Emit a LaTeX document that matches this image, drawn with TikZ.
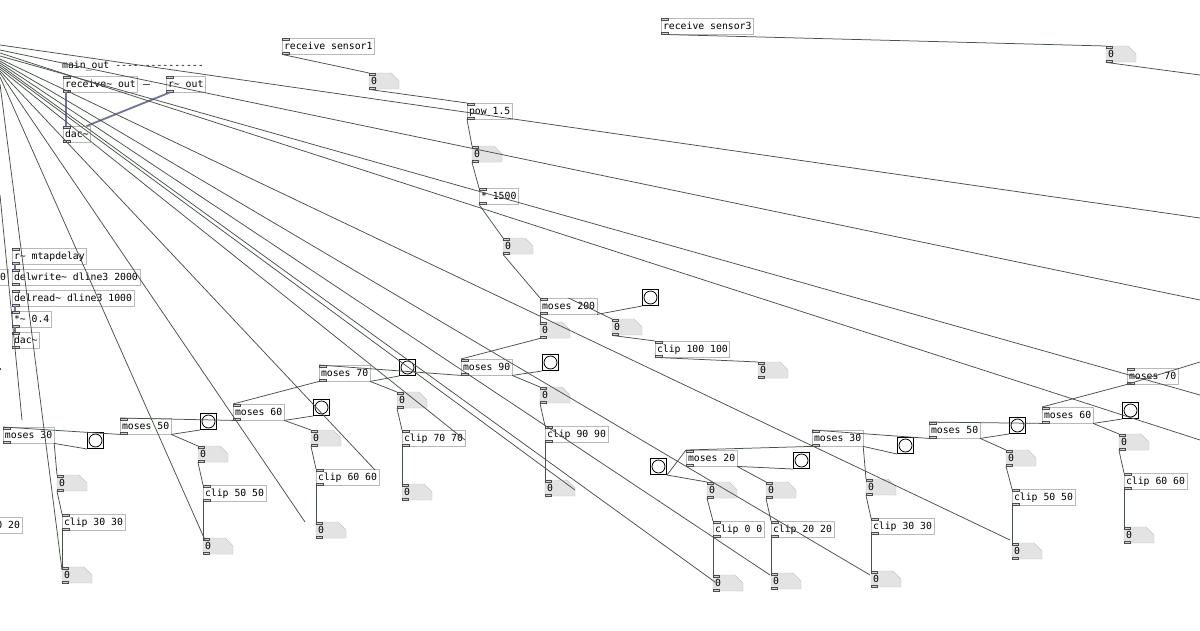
\documentclass[tikz,border=0pt]{standalone}
\usepackage{fontspec}
\setmonofont{DejaVu Sans Mono}
\usetikzlibrary{calc}
\definecolor{wirec}{rgb}{0.28,0.32,0.28}
\definecolor{sigc}{rgb}{0.45,0.45,0.6}
\tikzset{
 obj/.style={draw=gray!55,anchor=north west,inner sep=1.8pt,minimum height=16pt,font=\ttfamily\fontsize{9.8}{10}\selectfont,text height=7.5pt,text depth=1.5pt},
 wire/.style={draw=wirec,line width=0.75pt},
 sig/.style={draw=sigc,line width=1.8pt},
 port/.style={fill=gray!35,draw=gray!60!black,line width=0.3pt},
 numbg/.style={fill=gray!22,draw=gray!45},
}
\newcommand{\pdobj}[4]{\node[obj] (#1) at (#2,#3) {#4};
 \path[port] (#1.north west) rectangle ++(7,2); \path[port] (#1.south west) rectangle ++(7,-2);}
\newcommand{\pdnum}[3]{\node[anchor=north west,minimum width=30pt,minimum height=16pt,inner sep=0] (#1) at (#2,#3) {};
 \path[numbg] (#2,#3) -- ++(22,0) -- ++(8,8) -- ++(0,8) -- ++(-30,0) -- cycle;
 \node[anchor=west,inner sep=0,font=\ttfamily\fontsize{9.8}{10}\selectfont] at (#2+2,#3+8) {0};
 \path[port] (#1.north west) rectangle ++(6,2); \path[port] (#1.south west) rectangle ++(6,-2);}
\newcommand{\pdbang}[3]{\node[draw=black,line width=1pt,minimum size=16pt,inner sep=0,anchor=north west] (#1) at (#2,#3) {};
 \draw[line width=0.8pt] (#1.center) circle (6.5);}
\begin{document}
\begin{tikzpicture}[x=1pt,y=-1pt]
\fill[white] (0,0) rectangle (1200,630);
\useasboundingbox (0,0) rectangle (1200,630);
% top left
\node[anchor=west,inner sep=0,font=\ttfamily\fontsize{9.8}{10}\selectfont] (mo) at (62,66) {main\_out ---------------};
\pdobj{rec}{63}{76}{receive\~{} out}
\pdobj{rout}{166}{76}{r\~{} out}
\pdobj{dac}{63}{126}{dac\~{}}
\draw[sig] (rec.south west) ++(3,0) -- ($(dac.north west)+(3,0)$);
\draw[sig] (rout.south west) ++(4,0) -- ($(dac.north east)+(-4,0)$);
\draw[wirec] (143,84) -- (150,84);
% delay section
\pdobj{rmt}{12}{248}{r\~{} mtapdelay}
\pdobj{dw}{12}{269}{delwrite\~{} dline3 2000}
\node[obj,anchor=north east] (zz) at (8,269) {0};
\pdobj{dr}{12}{290}{delread\~{} dline3 1000}
\pdobj{mul}{12}{311}{*\~{} 0.4}
\pdobj{dac2}{12}{332}{dac\~{}}
\draw[sig] ($(rmt.south west)+(3,0)$) -- ($(dw.north west)+(3,0)$);
\draw[sig] ($(dr.south west)+(3,0)$) -- ($(mul.north west)+(3,0)$);
\draw[sig] ($(mul.south west)+(3,0)$) -- ($(dac2.north west)+(3,0)$);
% sensor1 chain
\pdobj{rs1}{282}{38}{receive sensor1}
\pdnum{n1}{369}{73}
\pdobj{pow}{467}{103}{pow 1.5}
\pdnum{n2}{472}{146}
\pdobj{m1500}{479}{188}{* 1500}
\pdnum{n3}{503}{238}
\draw[wire] (rs1.south west) -- (n1.north west);
\draw[wire] (n1.south west) -- (pow.north west);
\draw[wire] (pow.south west) -- (n2.north west);
\draw[wire] (n2.south west) -- (m1500.north west);
\draw[wire] (m1500.south west) -- (n3.north west);
% sensor3
\pdobj{rs3}{661}{18}{receive sensor3}
\pdnum{n4}{1106}{46}
\coordinate (e4) at (1200,75);
\draw[wire] (rs3.south west) -- (n4.north west);
\draw[wire] (n4.south west) -- (e4);
% moses 200
\pdobj{m200}{540}{298}{moses 200}
\pdbang{b200}{642}{289}
\pdnum{n200a}{540}{322}
\pdnum{n200b}{612}{319}
\pdobj{c100}{655}{341}{clip 100 100}
\pdnum{n100}{758}{362}
\draw[wire] (n3.south west) -- (m200.north west);
\draw[wire] (m200.south west) -- (n200a.north west);
\draw[wire] (m200.south east) -- (b200.south west);
\draw[wire] (m200.north) -- (n200b.north west);
\draw[wire] (n200b.south west) -- (c100.north west);
\draw[wire] (c100.south west) -- (n100.north west);
% moses 90
\pdobj{m90}{461}{359}{moses 90}
\pdbang{b90}{542}{354}
\pdnum{n90}{540}{387}
\pdobj{c90}{545}{426}{clip 90 90}
\pdnum{n90b}{545}{480}
\draw[wire] (n200a.south west) -- (m90.north west);
\draw[wire] (m90.south east) -- (b90.south west);
\draw[wire] (m90.south east) -- (n90.north west);
\draw[wire] (n90.south west) -- (c90.north west);
\draw[wire] (c90.south west) -- (n90b.north west);
% moses 70
\pdobj{m70}{319}{365}{moses 70}
\pdbang{b70}{399}{359}
\pdnum{n70}{397}{392}
\pdobj{c70}{402}{430}{clip 70 70}
\pdnum{n70b}{402}{484}
\draw[wire] (m90.south west) -- (m70.north west);
\draw[wire] (m70.south east) -- (b70.south west);
\draw[wire] (m70.south east) -- (n70.north west);
\draw[wire] (n70.south west) -- (c70.north west);
\draw[wire] (c70.south west) -- (n70b.north west);
% moses 60
\pdobj{m60}{233}{404}{moses 60}
\pdbang{b60}{313}{399}
\pdnum{n60}{311}{430}
\pdobj{c60}{316}{469}{clip 60 60}
\pdnum{n60b}{316}{522}
\draw[wire] (m70.south west) -- (m60.north west);
\draw[wire] (m60.south east) -- (b60.south west);
\draw[wire] (m60.south east) -- (n60.north west);
\draw[wire] (n60.south west) -- (c60.north west);
\draw[wire] (c60.south west) -- (n60b.north west);
% moses 50
\pdobj{m50}{120}{418}{moses 50}
\pdbang{b50}{200}{413}
\pdnum{n50}{198}{446}
\pdobj{c50}{203}{485}{clip 50 50}
\pdnum{n50b}{203}{538}
\draw[wire] (m60.south west) -- (m50.north west);
\draw[wire] (m50.south east) -- (b50.south west);
\draw[wire] (m50.south east) -- (n50.north west);
\draw[wire] (n50.south west) -- (c50.north west);
\draw[wire] (c50.south west) -- (n50b.north west);
% moses 30
\pdobj{m30}{3}{427}{moses 30}
\pdbang{b30}{87}{432}
\pdnum{n30}{57}{475}
\pdobj{c30}{62}{514}{clip 30 30}
\pdnum{n30b}{62}{567}
\node[obj,anchor=north east] (c20l) at (22,517) {0 20};
\draw[wire] (m50.south west) -- (m30.north west);
\draw[wire] (m30.south east) -- (b30.south west);
\draw[wire] (m30.south east) -- (n30.north west);
\draw[wire] (n30.south west) -- (c30.north west);
\draw[wire] (c30.south west) -- (n30b.north west);
% right group
\pdobj{rm70}{1127}{368}{moses 70}
\pdobj{rm60}{1042}{407}{moses 60}
\pdbang{rb60}{1122}{402}
\pdnum{rn60}{1119}{434}
\pdobj{rc60}{1124}{473}{clip 60 60}
\pdnum{rn60b}{1124}{527}
\pdobj{rm50}{929}{422}{moses 50}
\pdbang{rb50}{1009}{417}
\pdnum{rn50}{1006}{450}
\pdobj{rc50}{1012}{489}{clip 50 50}
\pdnum{rn50b}{1012}{543}
\pdobj{rm30}{812}{430}{moses 30}
\pdbang{rb30}{897}{437}
\pdnum{rn30}{866}{479}
\pdobj{rc30}{871}{518}{clip 30 30}
\pdnum{rn30b}{871}{571}
\pdobj{rm20}{686}{450}{moses 20}
\pdbang{rb20}{793}{452}
\pdbang{rb0}{650}{458}
\pdnum{rn0}{707}{482}
\pdnum{rn20}{766}{482}
\pdobj{rc0}{713}{521}{clip 0 0}
\pdobj{rc20}{771}{521}{clip 20 20}
\pdnum{rn0b}{713}{575}
\pdnum{rn20b}{771}{573}
\coordinate (rin) at (1200,362);
\draw[wire] (rin) -- (rm70.south west);
\draw[wire] (rm70.south west) -- (rm60.north west);
\draw[wire] (rm60.south east) -- (rb60.south west);
\draw[wire] (rm60.south east) -- (rn60.north west);
\draw[wire] (rn60.south west) -- (rc60.north west);
\draw[wire] (rc60.south west) -- (rn60b.north west);
\draw[wire] (rm60.south west) -- (rm50.north west);
\draw[wire] (rm50.south east) -- (rb50.south west);
\draw[wire] (rm50.south east) -- (rn50.north west);
\draw[wire] (rn50.south west) -- (rc50.north west);
\draw[wire] (rc50.south west) -- (rn50b.north west);
\draw[wire] (rm50.south west) -- (rm30.north west);
\draw[wire] (rm30.south east) -- (rb30.south west);
\draw[wire] (rm30.south east) -- (rn30.north west);
\draw[wire] (rn30.south west) -- (rc30.north west);
\draw[wire] (rc30.south west) -- (rn30b.north west);
\draw[wire] (rm30.south west) -- (rm20.north west);
\draw[wire] (rm20.south east) -- (rb20.south west);
\draw[wire] (rm20.south east) -- (rn20.north west);
\draw[wire] (rm20.north west) -- (rb0.south east);
\draw[wire] (rb0.south east) -- (rn0.north west);
\draw[wire] (rn0.south west) -- (rc0.north west);
\draw[wire] (rn20.south west) -- (rc20.north west);
\draw[wire] (rc0.south west) -- (rn0b.north west);
\draw[wire] (rc20.south west) -- (rn20b.north west);
% fan of long wires from the left edge
\foreach \ya/\xb/\yb in {45/1200/218, 50/1200/300, 53/1200/440, 56/1200/395, 59/1010/540,
  61/870/575, 63/770/575, 65/715/582, 67/575/490, 69/465/440, 71/375/470, 73/305/522,
  77/205/540, 84/62/570, 195/22/420, 368/0/370}
  \draw[wire] (0,\ya) -- (\xb,\yb);
\end{tikzpicture}
\end{document}
